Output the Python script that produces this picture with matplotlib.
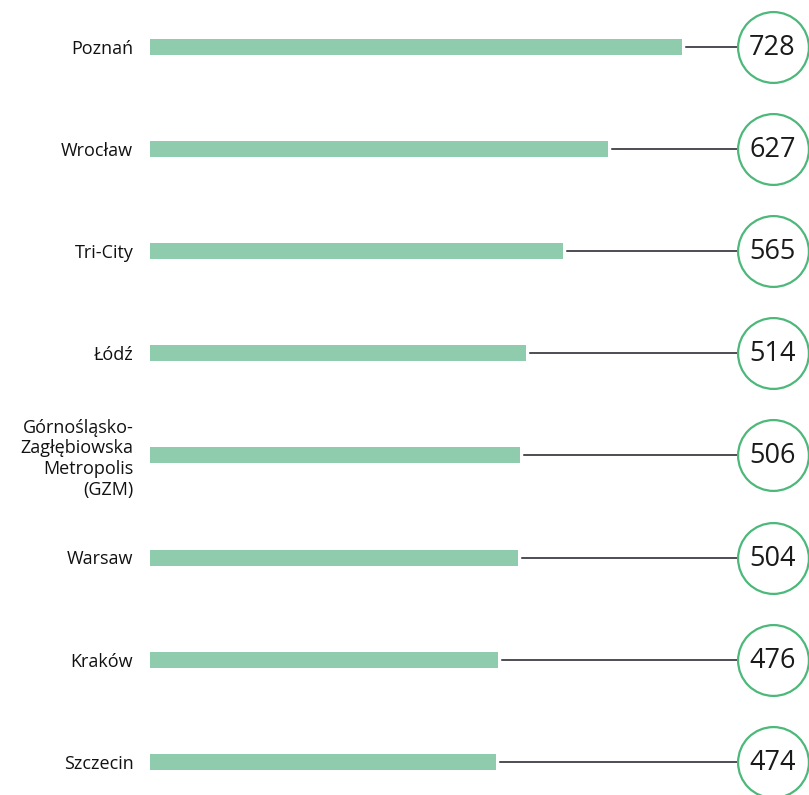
import numpy as np
import matplotlib.pyplot as plt

# values
cities = ["Poznań", "Wrocław", "Tri-City", "Łódź",
          "Górnośląsko-\nZagłębiowska\nMetropolis\n(GZM)",
          "Warsaw", "Kraków", "Szczecin"]
values = [728, 627, 565, 514, 506, 504, 476, 474]

bar_color = "#8fcbad"
ring_color = "#4cb87a"
line_color = "#1c1c24"

W, H = 809, 795
fig = plt.figure(figsize=(W / 100, H / 100), dpi=100)

# axes start where the bars start (x=150px); 0.7308 px per unit
px_per_unit = 0.7308
ax = fig.add_axes([150 / W, 0, 1 - 150 / W, 1])
ax.set_xlim(0, (W - 150) / px_per_unit)
row_px = 102.1
first_px = 47
ax.set_ylim((H - first_px) / row_px, -first_px / row_px)

y = np.arange(len(cities))
ax.barh(y, values, height=16 / row_px, color=bar_color, zorder=2)

circle_x = (772.5 - 150) / px_per_unit
gap = 4 / px_per_unit
for yi, v in zip(y, values):
    ax.plot([v + gap, circle_x], [yi, yi], color=line_color, lw=1.1, zorder=1)
ax.scatter([circle_x] * len(y), y, s=2600, facecolor="white",
           edgecolor=ring_color, linewidth=1.6, zorder=3)
for yi, v in zip(y, values):
    ax.text(circle_x, yi + 0.01, str(v), ha="center", va="center", fontsize=19.5,
            family="Open Sans", color="#1a1a1a", zorder=4)

ax.set_yticks(y)
ax.set_yticklabels(cities, fontsize=13, family="Open Sans",
                   color="#111111", multialignment="right", linespacing=1.2)
ax.tick_params(axis="y", length=0, pad=12)
ax.set_xticks([])
for s in ax.spines.values():
    s.set_visible(False)

fig.savefig("out.png", dpi=100)
